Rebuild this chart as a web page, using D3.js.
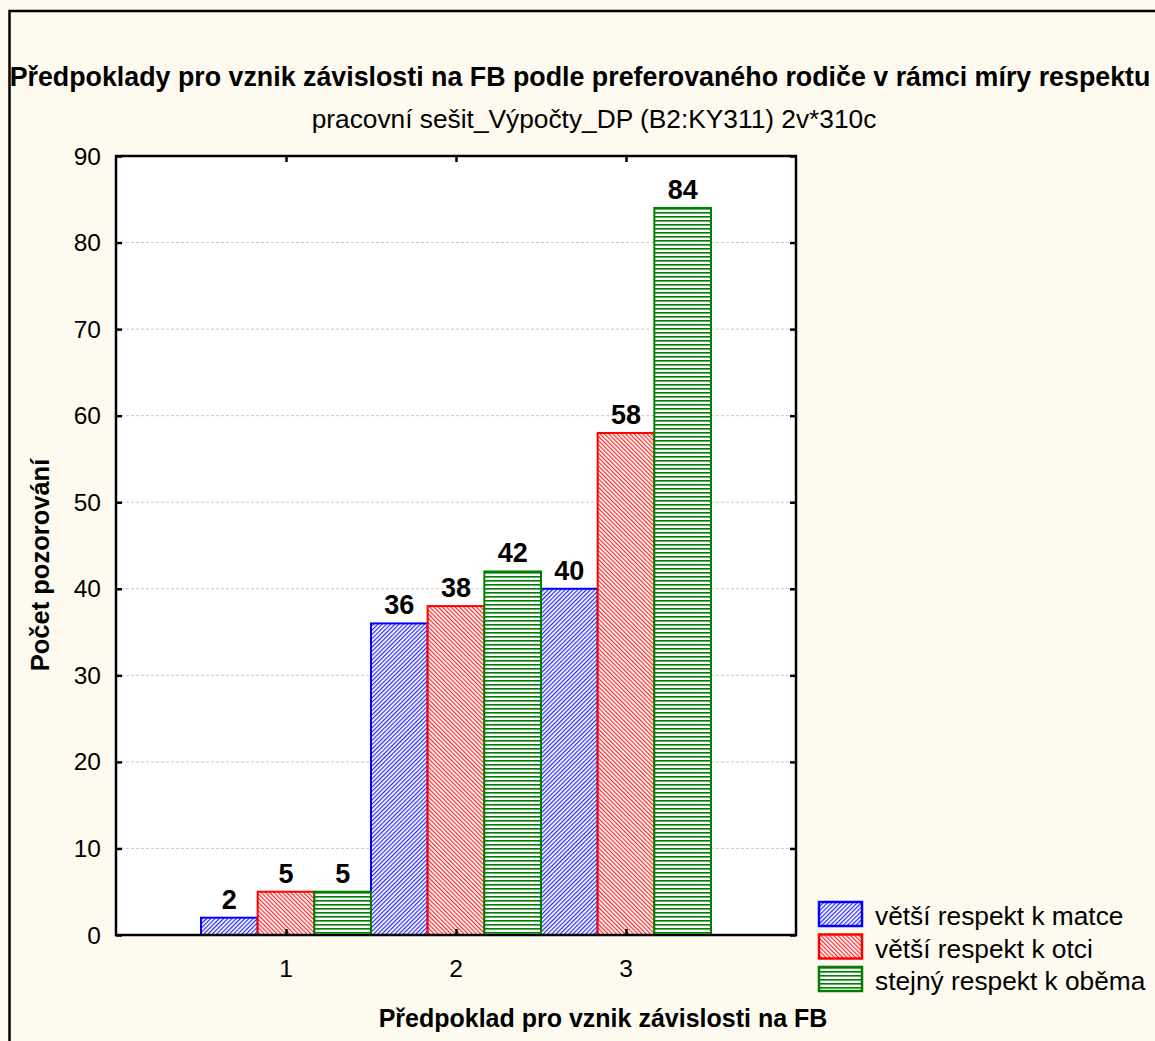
<!DOCTYPE html>
<html><head><meta charset="utf-8">
<script src="https://cdn.jsdelivr.net/npm/d3@7"></script>
<style>body{margin:0;background:#fefaf0}svg{display:block}text{font-family:"Liberation Sans",Arial,sans-serif}</style>
</head><body>
<svg id="c" width="1155" height="1041"></svg>
<script>
const categories = ["1","2","3"];
const seriesNames = ["větší respekt k matce","větší respekt k otci","stejný respekt k oběma"];
const seriesValues = [
  [2, 36, 40],
  [5, 38, 58],
  [5, 42, 84]
];
const yTicks = [0,10,20,30,40,50,60,70,80,90];
const colors = ["#0000ff","#ff0000","#008000"];
const title = "Předpoklady pro vznik závislosti na FB podle preferovaného rodiče v rámci míry respektu";
const subtitle = "pracovní sešit_Výpočty_DP (B2:KY311) 2v*310c";
const xTitle = "Předpoklad pro vznik závislosti na FB";
const yTitle = "Počet pozorování";

const svg = d3.select("#c");
svg.append("rect").attr("width",1155).attr("height",1041).attr("fill","#fefaf0");
// outer border
svg.append("rect").attr("x",9.5).attr("y",11).attr("width",1160).attr("height",1050)
  .attr("fill","none").attr("stroke","#000").attr("stroke-width",2.5);

const L=116,R=796,T=156,B=935;
const x = d3.scaleLinear().domain([0,4]).range([L,R]);
const y = d3.scaleLinear().domain([0,90]).range([B,T]);

const defs = svg.append("defs");
function diag(id,color,angle){
  const p=defs.append("pattern").attr("id",id).attr("patternUnits","userSpaceOnUse")
    .attr("width",3).attr("height",3).attr("patternTransform",`rotate(${angle})`);
  p.append("rect").attr("width",3).attr("height",3).attr("fill","#fff");
  p.append("rect").attr("width",1.2).attr("height",3).attr("fill",color).attr("opacity",0.85);
}
diag("p0",colors[0],45);
diag("p1",colors[1],-45);
const pg=defs.append("pattern").attr("id","p2").attr("patternUnits","userSpaceOnUse").attr("width",4).attr("height",4);
pg.append("rect").attr("width",4).attr("height",4).attr("fill","#fff");
pg.append("rect").attr("y",0).attr("width",4).attr("height",1.6).attr("fill",colors[2]);

function i2c(i){return +categories[i];}

// plot bg
svg.append("rect").attr("x",L).attr("y",T).attr("width",R-L).attr("height",B-T).attr("fill","#fff");
// gridlines
svg.append("g").selectAll("line").data(yTicks.filter(d=>d>0&&d<90)).join("line")
  .attr("x1",L).attr("x2",R).attr("y1",d=>y(d)).attr("y2",d=>y(d))
  .attr("stroke","#c8c8c8").attr("stroke-width",1).attr("stroke-dasharray","3,2");

// bars
const bw = 1/3;
const bars = [];
seriesValues.forEach((vals,s)=>vals.forEach((v,i)=>bars.push({s,i,v})));
svg.append("g").selectAll("rect").data(bars).join("rect")
  .attr("x",d=>x(i2c(d.i)-0.5+d.s*bw))
  .attr("width",d=>x(bw)-x(0))
  .attr("y",d=>y(d.v)).attr("height",d=>y(0)-y(d.v))
  .attr("fill",d=>`url(#p${d.s})`).attr("stroke",d=>colors[d.s]).attr("stroke-width",2);
svg.append("g").selectAll("text").data(bars).join("text")
  .attr("x",d=>x(i2c(d.i)-0.5+(d.s+0.5)*bw)).attr("y",d=>y(d.v)-9)
  .attr("text-anchor","middle").attr("font-weight","bold").attr("font-size",27).text(d=>d.v);

// axes frame
svg.append("rect").attr("x",L).attr("y",T).attr("width",R-L).attr("height",B-T)
  .attr("fill","none").attr("stroke","#000").attr("stroke-width",2.5);
const ax = svg.append("g");
ax.append("g").attr("transform",`translate(${L},0)`).call(d3.axisRight(y).tickValues(yTicks).tickSize(6).tickFormat(""))
  .call(g=>g.select(".domain").remove()).selectAll("line").attr("stroke-width",2.5);
ax.append("g").attr("transform",`translate(${R},0)`).call(d3.axisLeft(y).tickValues(yTicks).tickSize(6).tickFormat(""))
  .call(g=>g.select(".domain").remove()).selectAll("line").attr("stroke-width",2.5);
ax.append("g").attr("transform",`translate(0,${B})`).call(d3.axisTop(x).tickValues(categories.map(Number)).tickSize(6).tickFormat(""))
  .call(g=>g.select(".domain").remove()).selectAll("line").attr("stroke-width",2.5);
ax.append("g").attr("transform",`translate(0,${T})`).call(d3.axisBottom(x).tickValues(categories.map(Number)).tickSize(6).tickFormat(""))
  .call(g=>g.select(".domain").remove()).selectAll("line").attr("stroke-width",2.5);
// tick labels
svg.append("g").selectAll("text").data(yTicks).join("text")
  .attr("x",101).attr("y",d=>y(d)+8.5).attr("text-anchor","end").attr("font-size",24.5).text(d=>d);
svg.append("g").selectAll("text").data(categories).join("text")
  .attr("x",d=>x(+d)).attr("y",977).attr("text-anchor","middle").attr("font-size",24.5).text(d=>d);

// titles
svg.append("text").attr("x",580).attr("y",86).attr("text-anchor","middle").attr("font-weight","bold").attr("font-size",26.8).text(title);
svg.append("text").attr("x",594).attr("y",128).attr("text-anchor","middle").attr("font-size",26.3).text(subtitle);
svg.append("text").attr("x",603).attr("y",1027).attr("text-anchor","middle").attr("font-weight","bold").attr("font-size",25).text(xTitle);
svg.append("text").attr("transform","translate(49,565) rotate(-90)").attr("text-anchor","middle").attr("font-weight","bold").attr("font-size",25.5).text(yTitle);

// legend
const lg = svg.append("g").selectAll("g").data(seriesNames).join("g")
  .attr("transform",(d,i)=>`translate(819,${902+i*32.5})`);
lg.append("rect").attr("width",43).attr("height",24).attr("fill",(d,i)=>`url(#p${i})`)
  .attr("stroke",(d,i)=>colors[i]).attr("stroke-width",2.5);
lg.append("text").attr("x",56).attr("y",23).attr("font-size",26.3).text(d=>d);
</script>
</body></html>
